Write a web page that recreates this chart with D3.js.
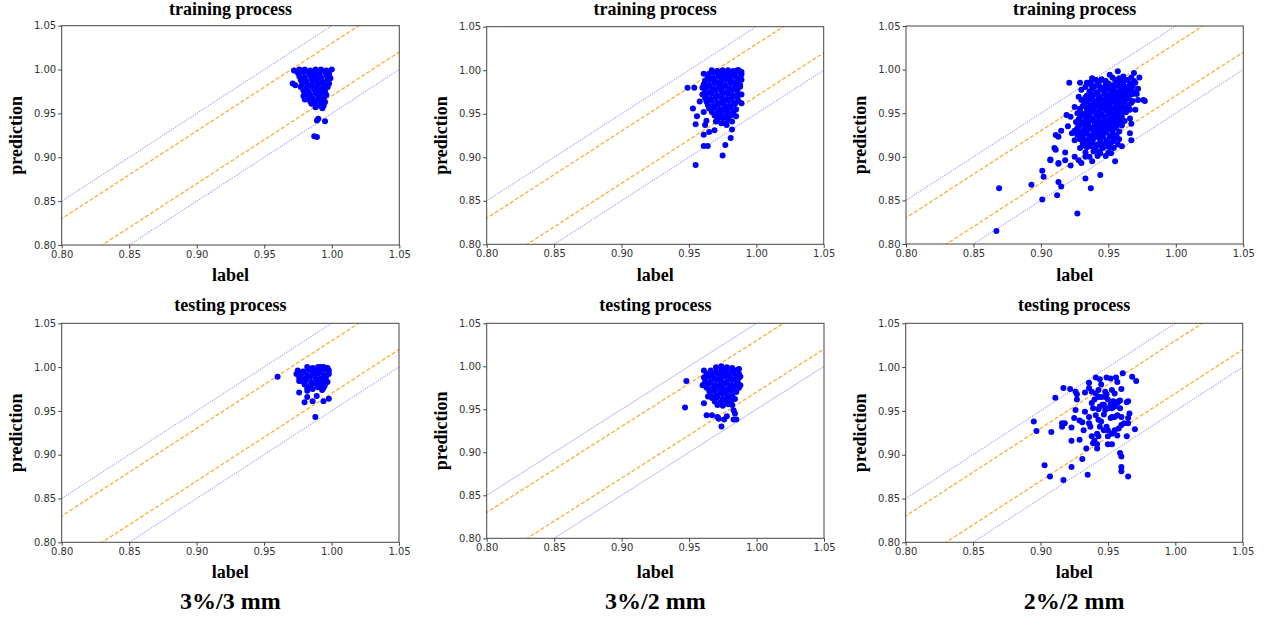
<!DOCTYPE html>
<html>
<head>
<meta charset="utf-8">
<script src="https://cdn.jsdelivr.net/npm/d3@7"></script>
<style>
  body { margin: 0; background: #fff; }
  .tick text { font-family: "DejaVu Sans", sans-serif; font-size: 10px; fill: #333; }
  .tick line { stroke: #444; }
  .ttl { font-family: "Liberation Serif", "Times New Roman", serif; font-weight: bold; }
</style>
</head>
<body>
<script>
// ---- data ----
var xTicks = [0.80, 0.85, 0.90, 0.95, 1.00, 1.05],
	yTicks = [0.80, 0.85, 0.90, 0.95, 1.00, 1.05],
	lineOffsets = [0.05, 0.03, -0.03, -0.05],
	rowTitles = ["training process", "testing process"],
	captions = ["3%/3 mm", "3%/2 mm", "2%/2 mm"];

// 3%/3 mm, training
var train33 = [
	[0.976,1.000],[0.980,1.000],[0.984,0.999],[0.988,1.000],[0.992,1.000],[0.996,0.999],[1.000,1.000],
	[0.975,0.996],[0.979,0.997],[0.983,0.996],[0.987,0.995],[0.991,0.996],[0.995,0.997],[0.998,0.995],
	[0.976,0.992],[0.980,0.991],[0.984,0.993],[0.988,0.992],[0.992,0.991],[0.996,0.993],[0.999,0.990],
	[0.977,0.988],[0.981,0.987],[0.985,0.989],[0.989,0.988],[0.993,0.987],[0.997,0.988],
	[0.978,0.984],[0.982,0.983],[0.986,0.985],[0.990,0.984],[0.994,0.983],[0.998,0.984],
	[0.977,0.980],[0.981,0.979],[0.985,0.981],[0.989,0.980],[0.993,0.979],[0.997,0.980],
	[0.979,0.976],[0.983,0.975],[0.987,0.977],[0.991,0.976],[0.995,0.975],
	[0.980,0.972],[0.984,0.971],[0.988,0.973],[0.992,0.972],[0.996,0.971],
	[0.982,0.968],[0.986,0.967],[0.990,0.968],[0.994,0.967],
	[0.984,0.964],[0.988,0.963],[0.992,0.964],[0.995,0.963],
	[0.988,0.960],[0.991,0.959],
	[0.972,0.999],[0.974,0.998],[0.971,0.984],[0.973,0.982],[0.979,0.970],[0.980,0.966],
	[0.985,0.961],[0.988,0.957],[0.993,0.956],[0.994,0.959],[0.989,0.942],[0.990,0.944],
	[0.995,0.941],[0.987,0.924],[0.989,0.923]
];

// 3%/2 mm, training
var train32 = [
	[0.967,1.000],[0.971,0.999],[0.975,1.000],[0.979,1.000],[0.983,0.999],[0.987,1.000],
	[0.965,0.996],[0.969,0.997],[0.973,0.996],[0.977,0.995],[0.981,0.996],[0.985,0.997],[0.989,0.995],
	[0.964,0.992],[0.968,0.991],[0.972,0.993],[0.976,0.992],[0.980,0.991],[0.984,0.993],[0.988,0.992],
	[0.962,0.988],[0.966,0.989],[0.970,0.987],[0.974,0.988],[0.978,0.989],[0.982,0.987],[0.986,0.988],[0.989,0.989],
	[0.961,0.984],[0.965,0.983],[0.969,0.985],[0.973,0.984],[0.977,0.983],[0.981,0.985],[0.985,0.984],[0.988,0.983],
	[0.960,0.980],[0.964,0.981],[0.968,0.979],[0.972,0.980],[0.976,0.981],[0.980,0.979],[0.984,0.980],[0.988,0.981],
	[0.962,0.976],[0.966,0.975],[0.970,0.977],[0.974,0.976],[0.978,0.975],[0.982,0.977],[0.986,0.976],
	[0.963,0.972],[0.967,0.973],[0.971,0.971],[0.975,0.972],[0.979,0.973],[0.983,0.971],[0.987,0.972],
	[0.962,0.968],[0.966,0.967],[0.970,0.969],[0.974,0.968],[0.978,0.967],[0.982,0.969],[0.986,0.968],
	[0.963,0.964],[0.967,0.965],[0.971,0.963],[0.975,0.964],[0.979,0.965],[0.983,0.963],[0.987,0.964],
	[0.964,0.960],[0.968,0.959],[0.972,0.961],[0.976,0.960],[0.980,0.959],[0.984,0.961],
	[0.965,0.956],[0.969,0.957],[0.973,0.955],[0.977,0.956],[0.981,0.957],[0.985,0.955],
	[0.967,0.952],[0.971,0.951],[0.975,0.953],[0.979,0.952],[0.983,0.951],
	[0.969,0.948],[0.973,0.949],[0.977,0.947],[0.981,0.948],
	[0.971,0.944],[0.975,0.945],[0.979,0.943],
	[0.949,0.980],[0.954,0.980],[0.953,0.956],[0.956,0.947],[0.955,0.938],[0.961,0.952],
	[0.962,0.937],[0.961,0.926],[0.965,0.929],[0.961,0.913],[0.964,0.913],[0.969,0.931],
	[0.970,0.941],[0.977,0.939],[0.977,0.914],[0.975,0.902],[0.981,0.922],[0.982,0.932],
	[0.985,0.947],[0.982,0.941],[0.955,0.891],[0.989,0.998],[0.986,1.000],[0.961,0.996],
	[0.958,0.964],[0.960,0.972],[0.989,0.972],[0.989,0.962],[0.963,0.942],[0.974,0.939],
	[0.978,0.937]
];

// 2%/2 mm, training
var train22 = [
	[0.938,0.990],[0.945,0.989],[0.953,0.991],[0.958,0.990],[0.962,0.988],[0.967,0.991],
	[0.935,0.985],[0.942,0.986],[0.950,0.984],[0.956,0.985],[0.961,0.986],[0.966,0.984],[0.970,0.985],
	[0.933,0.980],[0.940,0.981],[0.946,0.979],[0.951,0.980],[0.955,0.981],[0.959,0.979],[0.963,0.980],[0.968,0.981],
	[0.936,0.975],[0.941,0.974],[0.947,0.976],[0.952,0.975],[0.957,0.974],[0.961,0.976],[0.965,0.975],[0.970,0.974],
	[0.934,0.970],[0.939,0.971],[0.944,0.969],[0.949,0.970],[0.953,0.971],[0.957,0.969],[0.962,0.970],[0.966,0.971],
	[0.930,0.965],[0.936,0.966],[0.941,0.964],[0.946,0.965],[0.950,0.966],[0.955,0.964],[0.959,0.965],[0.963,0.966],[0.968,0.964],
	[0.932,0.960],[0.937,0.959],[0.942,0.961],[0.946,0.960],[0.951,0.959],[0.956,0.961],[0.960,0.960],[0.965,0.959],
	[0.929,0.955],[0.934,0.956],[0.939,0.954],[0.944,0.955],[0.948,0.956],[0.953,0.954],[0.957,0.955],[0.962,0.956],[0.966,0.954],
	[0.927,0.950],[0.932,0.949],[0.937,0.951],[0.941,0.950],[0.945,0.949],[0.950,0.951],[0.954,0.950],[0.958,0.949],[0.963,0.951],
	[0.929,0.945],[0.934,0.946],[0.938,0.944],[0.943,0.945],[0.947,0.946],[0.952,0.944],[0.956,0.945],[0.960,0.946],
	[0.926,0.940],[0.931,0.939],[0.936,0.941],[0.940,0.940],[0.945,0.939],[0.949,0.941],[0.954,0.940],[0.958,0.939],[0.962,0.941],
	[0.928,0.935],[0.933,0.936],[0.938,0.934],[0.942,0.935],[0.947,0.936],[0.951,0.934],[0.956,0.935],[0.960,0.936],
	[0.925,0.930],[0.930,0.929],[0.935,0.931],[0.940,0.930],[0.944,0.929],[0.949,0.931],[0.953,0.930],[0.958,0.929],
	[0.927,0.925],[0.932,0.926],[0.937,0.924],[0.942,0.925],[0.946,0.926],[0.951,0.924],[0.956,0.925],
	[0.929,0.920],[0.934,0.919],[0.939,0.921],[0.944,0.920],[0.949,0.919],[0.954,0.921],[0.958,0.920],
	[0.931,0.915],[0.936,0.916],[0.941,0.914],[0.947,0.915],[0.952,0.916],[0.957,0.914],
	[0.929,0.910],[0.934,0.911],[0.940,0.909],[0.946,0.910],[0.951,0.911],
	[0.933,0.905],[0.939,0.906],[0.944,0.904],[0.950,0.905],
	[0.936,0.900],[0.942,0.901],
	[0.941,0.988],[0.948,0.987],[0.955,0.988],[0.960,0.987],[0.964,0.988],
	[0.937,0.983],[0.943,0.982],[0.948,0.983],[0.953,0.982],[0.957,0.983],[0.961,0.982],[0.966,0.983],
	[0.938,0.978],[0.944,0.977],[0.949,0.978],[0.954,0.977],[0.959,0.978],[0.963,0.977],[0.967,0.978],
	[0.936,0.973],[0.942,0.972],[0.947,0.973],[0.951,0.972],[0.955,0.973],[0.960,0.972],[0.964,0.973],[0.968,0.972],
	[0.933,0.968],[0.938,0.967],[0.943,0.968],[0.948,0.967],[0.953,0.968],[0.957,0.967],[0.961,0.968],[0.965,0.967],
	[0.934,0.963],[0.939,0.962],[0.944,0.963],[0.949,0.962],[0.953,0.963],[0.958,0.962],[0.962,0.963],[0.967,0.962],
	[0.931,0.958],[0.936,0.957],[0.941,0.958],[0.946,0.957],[0.950,0.958],[0.955,0.957],[0.959,0.958],[0.964,0.957],
	[0.929,0.953],[0.934,0.952],[0.939,0.953],[0.943,0.952],[0.948,0.953],[0.952,0.952],[0.956,0.953],[0.960,0.952],
	[0.931,0.948],[0.936,0.947],[0.941,0.948],[0.945,0.947],[0.950,0.948],[0.954,0.947],[0.958,0.948],
	[0.928,0.943],[0.933,0.942],[0.938,0.943],[0.942,0.942],[0.947,0.943],[0.951,0.942],[0.956,0.943],[0.960,0.942],
	[0.930,0.938],[0.935,0.937],[0.940,0.938],[0.944,0.937],[0.949,0.938],[0.953,0.937],[0.958,0.938],
	[0.927,0.933],[0.932,0.932],[0.937,0.933],[0.942,0.932],[0.946,0.933],[0.951,0.932],[0.955,0.933],
	[0.929,0.928],[0.934,0.927],[0.939,0.928],[0.944,0.927],[0.948,0.928],[0.953,0.927],
	[0.931,0.923],[0.936,0.922],[0.941,0.923],[0.946,0.922],[0.951,0.923],[0.956,0.922],
	[0.933,0.918],[0.938,0.917],[0.944,0.918],[0.949,0.917],[0.954,0.918],
	[0.932,0.913],[0.937,0.912],[0.943,0.913],[0.948,0.912],
	[0.867,0.815],[0.869,0.864],[0.893,0.868],[0.901,0.851],[0.901,0.884],[0.902,0.877],
	[0.907,0.896],[0.912,0.856],[0.913,0.871],[0.915,0.866],[0.913,0.892],[0.910,0.910],
	[0.911,0.908],[0.911,0.925],[0.913,0.923],[0.915,0.930],[0.918,0.905],[0.919,0.948],
	[0.921,0.985],[0.920,0.935],[0.922,0.890],[0.918,0.896],[0.927,0.835],[0.933,0.875],
	[0.937,0.864],[0.944,0.879],[0.938,0.895],[0.955,0.895],[0.929,0.985],[0.930,0.977],
	[0.934,0.985],[0.938,0.988],[0.945,0.988],[0.951,0.994],[0.957,0.998],[0.961,0.992],
	[0.969,0.996],[0.969,0.987],[0.973,0.991],[0.971,0.972],[0.977,0.964],[0.976,0.965],
	[0.967,0.919],[0.966,0.944],[0.925,0.900],[0.928,0.896],[0.930,0.893],[0.933,0.900],
	[0.943,0.906],[0.948,0.901],[0.952,0.904],[0.954,0.910],[0.960,0.912],[0.966,0.927],
	[0.967,0.938],[0.970,0.954],[0.972,0.965],[0.972,0.978],[0.925,0.919],[0.923,0.927],
	[0.922,0.946],[0.925,0.957],[0.928,0.969],[0.913,0.893],[0.907,0.897]
];

// 3%/3 mm, testing
var test33 = [
	[0.982,1.000],[0.986,0.999],[0.990,1.000],[0.994,1.000],[0.997,0.999],
	[0.975,0.996],[0.979,0.995],[0.983,0.997],[0.987,0.996],[0.991,0.995],[0.995,0.997],[0.998,0.996],
	[0.974,0.992],[0.978,0.993],[0.982,0.991],[0.986,0.992],[0.990,0.993],[0.994,0.991],[0.998,0.992],
	[0.976,0.988],[0.980,0.987],[0.984,0.989],[0.988,0.988],[0.992,0.987],[0.996,0.989],
	[0.977,0.984],[0.981,0.985],[0.985,0.983],[0.989,0.984],[0.993,0.985],[0.997,0.983],
	[0.980,0.980],[0.984,0.979],[0.988,0.981],[0.992,0.980],[0.995,0.979],
	[0.982,0.976],[0.986,0.975],[0.990,0.977],[0.994,0.976],
	[0.960,0.989],[0.975,0.994],[0.976,0.984],[0.976,0.971],[0.980,0.960],[0.982,0.973],
	[0.986,0.961],[0.989,0.967],[0.988,0.943],[0.994,0.961],[0.998,0.964],[0.993,0.974],
	[0.996,0.983],[0.996,0.999],[0.992,1.000],[0.982,0.966]
];

// 3%/2 mm, testing
var test32 = [
	[0.970,0.999],[0.974,1.000],[0.978,0.999],[0.982,0.998],
	[0.966,0.995],[0.970,0.994],[0.974,0.996],[0.978,0.995],[0.982,0.994],[0.986,0.996],
	[0.963,0.991],[0.967,0.990],[0.971,0.992],[0.975,0.991],[0.979,0.990],[0.983,0.992],[0.987,0.991],
	[0.961,0.987],[0.965,0.988],[0.969,0.986],[0.973,0.987],[0.977,0.988],[0.981,0.986],[0.985,0.987],[0.988,0.988],
	[0.962,0.983],[0.966,0.982],[0.970,0.984],[0.974,0.983],[0.978,0.982],[0.982,0.984],[0.986,0.983],
	[0.961,0.979],[0.965,0.980],[0.969,0.978],[0.973,0.979],[0.977,0.980],[0.981,0.978],[0.985,0.979],[0.988,0.978],
	[0.963,0.975],[0.967,0.974],[0.971,0.976],[0.975,0.975],[0.979,0.974],[0.983,0.976],[0.987,0.975],
	[0.965,0.971],[0.969,0.972],[0.973,0.970],[0.977,0.971],[0.981,0.972],[0.985,0.970],
	[0.966,0.967],[0.970,0.966],[0.974,0.968],[0.978,0.967],[0.982,0.966],
	[0.967,0.963],[0.971,0.964],[0.975,0.962],[0.979,0.963],[0.983,0.962],
	[0.969,0.959],[0.973,0.958],[0.977,0.960],[0.981,0.959],
	[0.971,0.955],[0.975,0.954],[0.979,0.956],
	[0.947,0.952],[0.948,0.983],[0.961,0.995],[0.960,0.978],[0.961,0.957],[0.963,0.943],
	[0.967,0.943],[0.964,0.965],[0.971,0.941],[0.972,0.939],[0.974,0.930],[0.976,0.938],
	[0.978,0.942],[0.982,0.955],[0.983,0.949],[0.983,0.938],[0.985,0.938],[0.984,0.945],
	[0.987,0.997],[0.987,0.978],[0.984,0.962],[0.987,0.987]
];

// 2%/2 mm, testing
var test22 = [
	[0.895,0.938],[0.897,0.927],[0.903,0.888],[0.907,0.875],[0.908,0.926],[0.911,0.965],
	[0.917,0.976],[0.917,0.871],[0.916,0.936],[0.916,0.932],[0.918,0.936],[0.922,0.975],
	[0.923,0.931],[0.923,0.916],[0.923,0.886],[0.925,0.942],[0.926,0.951],[0.926,0.972],
	[0.927,0.969],[0.927,0.963],[0.929,0.939],[0.931,0.937],[0.929,0.917],[0.931,0.895],
	[0.932,0.928],[0.933,0.949],[0.933,0.971],[0.934,0.907],[0.935,0.877],[0.936,0.982],
	[0.936,0.976],[0.936,0.943],[0.936,0.936],[0.937,0.932],[0.938,0.921],[0.938,0.972],
	[0.939,0.913],[0.940,0.916],[0.942,0.912],[0.940,0.963],[0.941,0.988],[0.942,0.924],
	[0.942,0.907],[0.943,0.952],[0.943,0.974],[0.944,0.986],[0.945,0.966],[0.945,0.980],
	[0.945,0.938],[0.946,0.957],[0.947,0.946],[0.948,0.972],[0.949,0.988],[0.949,0.969],
	[0.949,0.932],[0.950,0.928],[0.950,0.912],[0.952,0.987],[0.952,0.942],[0.953,0.943],
	[0.955,0.943],[0.957,0.945],[0.953,0.912],[0.954,0.961],[0.956,0.988],[0.957,0.983],
	[0.957,0.922],[0.958,0.961],[0.959,0.962],[0.959,0.953],[0.959,0.902],[0.960,0.898],
	[0.960,0.886],[0.960,0.881],[0.960,0.975],[0.961,0.993],[0.960,0.943],[0.960,0.934],
	[0.962,0.936],[0.964,0.960],[0.965,0.942],[0.965,0.961],[0.965,0.875],[0.964,0.921],
	[0.965,0.936],[0.966,0.947],[0.968,0.989],[0.970,0.929],[0.971,0.984],
	[0.938,0.959],[0.939,0.953],[0.941,0.945],[0.943,0.940],[0.944,0.955],[0.947,0.957],
	[0.948,0.951],[0.950,0.953],[0.952,0.957],[0.953,0.953],[0.955,0.955],[0.957,0.959],
	[0.950,0.963],[0.948,0.966],[0.943,0.966],[0.941,0.970],[0.953,0.974],[0.955,0.970],
	[0.944,0.932],[0.947,0.928],[0.950,0.921],[0.953,0.924],[0.955,0.928],[0.958,0.930],
	[0.943,0.921]
];

var panelData = [[train33, train32, train22], [test33, test32, test22]];

// ---- layout (plot boxes: left, top, right, bottom) ----
var boxes = [
	[[61.7, 25.7, 399.3, 245], [486.7, 26.7, 823.7, 244.3], [906, 26, 1243.3, 244]],
	[[61.7, 323.3, 399, 542.3], [486.7, 323.3, 824, 538.3], [905.7, 323.3, 1242.7, 542.3]]
];
var titleY = [15, 311], labelY = [281, 578], captionY = 609;

var svg = d3.select("body").append("svg")
	.attr("width", 1273)
	.attr("height", 618);

var fmt = d3.format(".2f");

boxes.forEach(function(row, r) {
	row.forEach(function(b, c) {
		var id = "clip" + r + c,
		x = d3.scaleLinear().domain([0.80, 1.05]).range([b[0], b[2]]),
		y = d3.scaleLinear().domain([0.80, 1.05]).range([b[3], b[1]]),
		cx = (b[0] + b[2]) / 2,
		cy = (b[1] + b[3]) / 2;

		svg.append("clipPath").attr("id", id)
			.append("rect")
			.attr("x", b[0]).attr("y", b[1])
			.attr("width", b[2] - b[0]).attr("height", b[3] - b[1]);

		var plot = svg.append("g").attr("clip-path", "url(#" + id + ")");

		// tolerance lines y = x + d
		plot.selectAll("line.tol")
			.data(lineOffsets)
			.enter().append("line")
			.attr("class", "tol")
			.attr("x1", x(0.75)).attr("y1", function(d) { return y(0.75 + d); })
			.attr("x2", x(1.10)).attr("y2", function(d) { return y(1.10 + d); })
			.attr("stroke", function(d) { return Math.abs(d) > 0.04 ? "#6a6aff" : "#ffa726"; })
			.attr("stroke-opacity", function(d) { return Math.abs(d) > 0.04 ? (r == 1 && c == 1 ? 0.45 : 0.9) : 1; })
			.attr("stroke-width", function(d) { return Math.abs(d) > 0.04 ? 1 : 1.2; })
			.attr("stroke-dasharray", function(d) {
				if (Math.abs(d) < 0.04) return "4,2";
				return (r == 1 && c == 1) ? null : "1,1.2";
			});

		// points
		plot.selectAll("circle")
			.data(panelData[r][c])
			.enter().append("circle")
			.attr("cx", function(d) { return x(d[0]); })
			.attr("cy", function(d) { return y(d[1]); })
			.attr("r", 3)
			.attr("fill", "#0000ff");

		// frame
		svg.append("rect")
			.attr("x", b[0]).attr("y", b[1])
			.attr("width", b[2] - b[0]).attr("height", b[3] - b[1])
			.attr("fill", "none").attr("stroke", "#444").attr("stroke-width", 1);

		var xa = svg.append("g")
			.attr("transform", "translate(0," + b[3] + ")")
			.call(d3.axisBottom(x).tickValues(xTicks).tickFormat(fmt).tickSize(3.5).tickPadding(2));
		xa.select(".domain").remove();

		var ya = svg.append("g")
			.attr("transform", "translate(" + b[0] + ",0)")
			.call(d3.axisLeft(y).tickValues(yTicks).tickFormat(fmt).tickSize(3.5).tickPadding(2));
		ya.select(".domain").remove();

		// texts
		svg.append("text").attr("class", "ttl")
			.attr("x", cx).attr("y", titleY[r])
			.attr("text-anchor", "middle").attr("font-size", 18)
			.text(rowTitles[r]);

		svg.append("text").attr("class", "ttl")
			.attr("x", cx).attr("y", labelY[r])
			.attr("text-anchor", "middle").attr("font-size", 18)
			.text("label");

		svg.append("text").attr("class", "ttl")
			.attr("transform", "translate(" + (b[0] - 40) + "," + cy + ") rotate(-90)")
			.attr("text-anchor", "middle").attr("font-size", 18)
			.text("prediction");

		if (r == 1) {
			svg.append("text").attr("class", "ttl")
				.attr("x", cx).attr("y", captionY)
				.attr("text-anchor", "middle").attr("font-size", 24)
				.text(captions[c]);
		}
	});
});
</script>
</body>
</html>
